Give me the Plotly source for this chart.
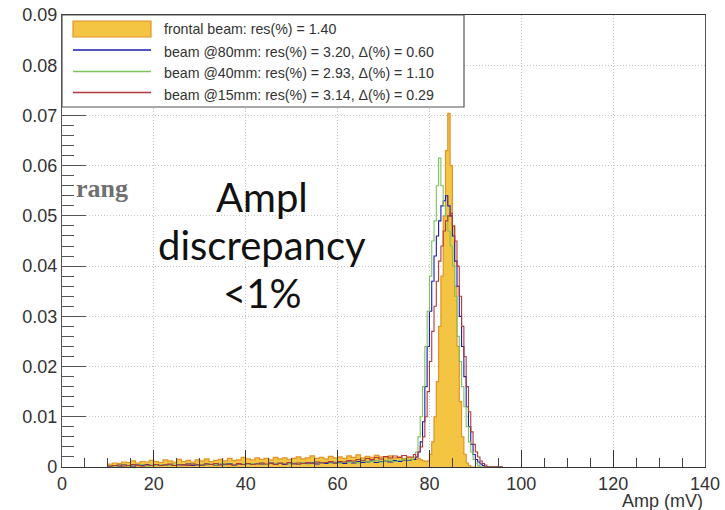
import numpy as np
import plotly.graph_objects as go

# ---------------- data ----------------
# bin edges (mV): 1 mV bins from 10 to 76, 0.5 mV bins from 76 to 96
low_edges = list(range(10, 76))                    # 66 bins
peak_edges = [76 + 0.5 * i for i in range(40)]     # 40 bins
last_edge = 96

frontal_low = [0.0006,0.0008,0.0007,0.0010,0.0009,0.0012,0.0008,0.0011,0.0010,0.0013,
               0.0011,0.0009,0.0014,0.0012,0.0010,0.0015,0.0011,0.0013,0.0010,0.0014,
               0.0012,0.0016,0.0011,0.0013,0.0015,0.0012,0.0017,0.0013,0.0014,0.0019,
               0.0016,0.0014,0.0018,0.0015,0.0017,0.0014,0.0019,0.0016,0.0018,0.0015,
               0.0017,0.0020,0.0016,0.0018,0.0022,0.0017,0.0019,0.0016,0.0021,0.0018,
               0.0020,0.0017,0.0022,0.0019,0.0024,0.0018,0.0021,0.0019,0.0023,0.0020,
               0.0019,0.0022,0.0018,0.0020,0.0017,0.0019]
frontal_peak = [0.0016,0.0018,0.0015,0.0017,0.0014,0.0012,0.0011,0.0012,0.0025,0.005,
                0.010,0.017,0.028,0.038,0.050,0.063,0.0704,0.060,0.048,0.036,
                0.024,0.013,0.006,0.0025,0.0008,0.0003,0,0,0,0,
                0,0,0,0,0,0,0,0,0,0]

b80_low = [0.0002,0.0003,0.0002,0.0004,0.0003,0.0002,0.0004,0.0003,0.0005,0.0003,
           0.0004,0.0003,0.0005,0.0004,0.0003,0.0005,0.0004,0.0006,0.0003,0.0005,
           0.0004,0.0006,0.0005,0.0004,0.0006,0.0005,0.0007,0.0004,0.0006,0.0005,
           0.0006,0.0005,0.0007,0.0006,0.0005,0.0008,0.0006,0.0007,0.0005,0.0008,
           0.0007,0.0006,0.0008,0.0007,0.0009,0.0006,0.0008,0.0007,0.0009,0.0008,
           0.0009,0.0007,0.0010,0.0008,0.0011,0.0009,0.0010,0.0012,0.0009,0.0011,
           0.0012,0.0010,0.0013,0.0011,0.0014,0.0013]
b80_peak = [0.0015,0.0015,0.002,0.003,0.005,0.009,0.016,0.024,0.031,0.037,
            0.042,0.046,0.049,0.052,0.053,0.054,0.052,0.050,0.046,0.041,
            0.036,0.030,0.024,0.018,0.012,0.008,0.0045,0.0025,0.0015,0.001,
            0.0006,0.0003,0,0,0,0,0,0,0,0]

b40_low = [0.0003,0.0002,0.0004,0.0003,0.0002,0.0004,0.0003,0.0005,0.0002,0.0004,
           0.0003,0.0005,0.0004,0.0003,0.0006,0.0004,0.0005,0.0003,0.0006,0.0004,
           0.0005,0.0004,0.0006,0.0005,0.0007,0.0004,0.0006,0.0005,0.0007,0.0006,
           0.0005,0.0007,0.0006,0.0008,0.0005,0.0007,0.0006,0.0008,0.0007,0.0006,
           0.0008,0.0007,0.0009,0.0006,0.0008,0.0010,0.0007,0.0009,0.0008,0.0010,
           0.0008,0.0010,0.0009,0.0011,0.0008,0.0012,0.0010,0.0011,0.0013,0.0010,
           0.0012,0.0014,0.0011,0.0013,0.0015,0.0014]
b40_peak = [0.0015,0.002,0.003,0.006,0.010,0.016,0.024,0.031,0.038,0.045,
            0.049,0.056,0.0615,0.056,0.052,0.050,0.047,0.044,0.040,0.034,
            0.026,0.021,0.016,0.012,0.008,0.005,0.003,0.0015,0.0008,0.0003,
            0,0,0,0,0,0,0,0,0,0]

b15_low = [0.0002,0.0003,0.0004,0.0002,0.0003,0.0005,0.0003,0.0002,0.0004,0.0003,
           0.0005,0.0003,0.0004,0.0006,0.0003,0.0004,0.0005,0.0003,0.0006,0.0004,
           0.0004,0.0006,0.0005,0.0007,0.0004,0.0006,0.0005,0.0004,0.0007,0.0005,
           0.0007,0.0005,0.0006,0.0008,0.0006,0.0007,0.0005,0.0008,0.0006,0.0009,
           0.0006,0.0008,0.0007,0.0009,0.0007,0.0010,0.0008,0.0009,0.0011,0.0008,
           0.0011,0.0010,0.0013,0.0012,0.0015,0.0013,0.0017,0.0015,0.0019,0.0016,
           0.0021,0.0018,0.0022,0.0019,0.0023,0.0020]
b15_peak = [0.002,0.0025,0.002,0.003,0.004,0.006,0.010,0.015,0.021,0.027,
            0.032,0.037,0.041,0.044,0.047,0.049,0.050,0.0505,0.048,0.045,
            0.040,0.034,0.028,0.022,0.016,0.011,0.007,0.0045,0.003,0.002,
            0.0012,0.0007,0.0004,0,0,0,0,0,0,0]

legend_labels = ["frontal beam: res(%) = 1.40",
                 "beam @80mm: res(%) = 3.20, \u0394(%) = 0.60",
                 "beam @40mm: res(%) = 2.93, \u0394(%) = 1.10",
                 "beam @15mm: res(%) = 3.14, \u0394(%) = 0.29"]

x_ticks = [0, 20, 40, 60, 80, 100, 120, 140]
y_ticks = [0, 0.01, 0.02, 0.03, 0.04, 0.05, 0.06, 0.07, 0.08, 0.09]

# ---------------- layout geometry ----------------
W, H = 725, 510
L, R, T, B = 62, 20, 15, 43
PW, PH = W - L - R, H - T - B


def px(x):
    return (x - L) / PW


def py(y):
    return (H - B - y) / PH


edges = low_edges + peak_edges


def step(vals_low, vals_peak):
    vals = list(vals_low) + list(vals_peak)
    xs = [edges[0]] + edges + [last_edge]
    ys = [0] + vals + [vals[-1]]
    return xs, ys


fig = go.Figure()

fx, fy = step(frontal_low, frontal_peak)
fig.add_trace(go.Scatter(x=fx, y=fy, mode="lines", line_shape="hv",
                         line=dict(color="#e0942a", width=1.2),
                         fill="tozeroy", fillcolor="#f4c542", showlegend=False))

series = [(b80_low, b80_peak, "#1b1bb0"),
          (b40_low, b40_peak, "#7cc45a"),
          (b15_low, b15_peak, "#b03a3a")]
for lo, pk, col in series:
    xs, ys = step(lo, pk)
    fig.add_trace(go.Scatter(x=xs, y=ys, mode="lines", line_shape="hv",
                             line=dict(color=col, width=1.1), showlegend=False))

# ---------------- legend (drawn box) ----------------
shapes = [dict(type="rect", xref="paper", yref="paper",
               x0=px(62), x1=px(464), y0=py(107), y1=py(15),
               fillcolor="white", line=dict(color="#555555", width=1.2), layer="above"),
          dict(type="rect", xref="paper", yref="paper",
               x0=px(73), x1=px(151), y0=py(37), y1=py(21),
               fillcolor="#f4c542", line=dict(color="#e0942a", width=1.2), layer="above")]
line_y = [50, 71.5, 92.5]
for (lo, pk, col), ly in zip(series, line_y):
    shapes.append(dict(type="line", xref="paper", yref="paper",
                       x0=px(73), x1=px(151), y0=py(ly), y1=py(ly),
                       line=dict(color=col, width=1.3), layer="above"))

annotations = []
text_y = [28.5, 52.5, 73, 95]
for lab, ty in zip(legend_labels, text_y):
    annotations.append(dict(xref="paper", yref="paper", x=px(162), y=py(ty),
                            xanchor="left", yanchor="middle", showarrow=False,
                            text=lab, font=dict(family="Liberation Sans, Arial", size=14.2, color="#333333")))

# axis title
annotations.append(dict(xref="paper", yref="paper", x=px(705), y=py(501),
                        xanchor="right", yanchor="middle", showarrow=False,
                        text="Amp (mV)", font=dict(family="Liberation Sans, Arial", size=18, color="#333333")))

# slide overlay texts
annotations.append(dict(xref="paper", yref="paper", x=px(74), y=py(188),
                        xanchor="left", yanchor="middle", showarrow=False,
                        text="<b>rang</b>", font=dict(family="Liberation Serif, DejaVu Serif", size=26, color="#707070")))
for txt, ty in [("Ampl", 197), ("discrepancy", 245), ("&lt;1%", 293)]:
    annotations.append(dict(xref="paper", yref="paper", x=px(262), y=py(ty),
                            xanchor="center", yanchor="middle", showarrow=False,
                            text=txt, font=dict(family="Lato, Open Sans", size=40, color="#111111")))

axis_font = dict(family="Liberation Sans, Arial", size=18, color="#333333")
grid_dash = "1px,2px"
fig.update_layout(
    width=W, height=H, margin=dict(l=L, r=R, t=T, b=B, autoexpand=False),
    paper_bgcolor="white", plot_bgcolor="white",
    shapes=shapes, annotations=annotations, showlegend=False,
    xaxis=dict(range=[0, 140], tickvals=x_ticks, ticks="inside", ticklen=17, tickcolor="#333333",
               showline=True, linecolor="#333333", linewidth=1.2, mirror=True, automargin=False,
               showgrid=True, gridcolor="#c4c4c4", griddash=grid_dash, gridwidth=1,
               zeroline=False, tickfont=axis_font,
               minor=dict(dtick=5, ticks="inside", ticklen=9, tickcolor="#444444", showgrid=False)),
    yaxis=dict(range=[0, 0.09], tickvals=y_ticks, ticks="inside", ticklen=24, tickcolor="#555555",
               showline=True, linecolor="#555555", linewidth=1.2, mirror=True, automargin=False,
               showgrid=True, gridcolor="#c4c4c4", griddash=grid_dash, gridwidth=1,
               zeroline=False, tickfont=axis_font,
               minor=dict(dtick=0.002, ticks="inside", ticklen=12, tickcolor="#555555", showgrid=False)),
)

fig.write_html("out.html")
